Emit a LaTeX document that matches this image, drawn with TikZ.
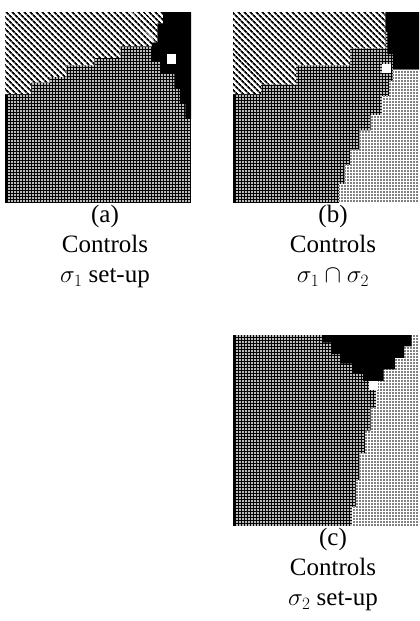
\documentclass[tikz,border=0pt]{standalone}
\usepackage{fontspec}
\setmainfont{Liberation Serif}
\usetikzlibrary{patterns.meta}
\begin{document}
\begin{tikzpicture}[x=1pt,y=-1pt,
  darkfield/.style={fill=black,
    postaction={pattern={Dots[distance=3pt,radius=1.05pt]},pattern color=white}},
  hatchfield/.style={fill=white,
    postaction={pattern={Lines[angle=-45,distance=4pt,line width=1.8pt]},pattern color=black}},
  palefield/.style={fill=white,
    postaction={pattern={Dots[distance=3pt,radius=0.85pt]},pattern color=black}},
  blackfield/.style={fill=black},
  marker/.style={fill=white},
  edgestrip/.style={fill=black},
  streak/.style={draw=white,line width=1.6pt,opacity=0.55},
  caption/.style={anchor=north,align=center,inner sep=0pt,
    font=\fontsize{25}{30}\selectfont}]
\useasboundingbox (0,0) rectangle (420,621);

% ---- panel (a): sigma_1 set-up
\begin{scope}[shift={(5,12)},x=186pt,y=-191pt]
  \fill[darkfield] (0,0) rectangle (1,1);
  \fill[edgestrip] (0,0.43) rectangle (0.016,1);
  \fill[hatchfield] (0,0) -- (0.85,0) -- (0.85,0.06) -- (0.82,0.06) -- (0.82,0.16)
    -- (0.79,0.16) -- (0.79,0.18) -- (0.62,0.18) -- (0.62,0.24) -- (0.48,0.24)
    -- (0.48,0.28) -- (0.33,0.28) -- (0.33,0.34) -- (0.24,0.34) -- (0.24,0.37)
    -- (0.14,0.37) -- (0.14,0.43) -- (0,0.43) -- cycle;
  \draw[streak] (0.68,0) -- (0.80,0.15);
  \fill[blackfield] (0.85,0) -- (1,0) -- (1,0.56) -- (0.97,0.56) -- (0.97,0.48)
    -- (0.94,0.48) -- (0.94,0.40) -- (0.91,0.40) -- (0.91,0.32) -- (0.84,0.32)
    -- (0.84,0.26) -- (0.79,0.26) -- (0.79,0.16) -- (0.82,0.16) -- (0.82,0.06)
    -- (0.85,0.06) -- cycle;
  \fill[marker] (0.87,0.22) rectangle (0.92,0.27);
\end{scope}

% ---- panel (b): sigma_1 cap sigma_2
\begin{scope}[shift={(233,12)},x=186pt,y=-191pt]
  \fill[darkfield] (0,0) rectangle (1,1);
  \fill[edgestrip] (0,0.43) rectangle (0.016,1);
  \fill[hatchfield] (0,0) -- (0.82,0) -- (0.82,0.19) -- (0.63,0.19) -- (0.63,0.28)
    -- (0.34,0.28) -- (0.34,0.38) -- (0.15,0.38) -- (0.15,0.43) -- (0,0.43) -- cycle;
  \fill[palefield] (0.86,0.3) -- (1,0.3) -- (1,1) -- (0.57,1) -- (0.57,0.9)
    -- (0.6,0.9) -- (0.6,0.8) -- (0.63,0.8) -- (0.63,0.72) -- (0.68,0.72)
    -- (0.68,0.62) -- (0.74,0.62) -- (0.74,0.54) -- (0.8,0.54) -- (0.8,0.44)
    -- (0.84,0.44) -- (0.84,0.36) -- (0.86,0.36) -- cycle;
  \fill[blackfield] (0.82,0) -- (1,0) -- (1,0.3) -- (0.86,0.3) -- (0.86,0.22)
    -- (0.83,0.22) -- (0.83,0.1) -- (0.82,0.1) -- cycle;
  \fill[marker] (0.80,0.27) rectangle (0.85,0.32);
\end{scope}

% ---- panel (c): sigma_2 set-up
\begin{scope}[shift={(233,335)},x=186pt,y=-191pt]
  \fill[darkfield] (0,0) rectangle (1,1);
  \fill[edgestrip] (0,0) rectangle (0.016,1);
  \fill[palefield] (0.9,0) -- (1,0) -- (1,1) -- (0.64,1) -- (0.64,0.9) -- (0.66,0.9)
    -- (0.66,0.76) -- (0.68,0.76) -- (0.68,0.62) -- (0.71,0.62) -- (0.71,0.5)
    -- (0.74,0.5) -- (0.74,0.38) -- (0.77,0.38) -- (0.77,0.2) -- cycle;
  \fill[blackfield] (0.48,0) -- (0.96,0) -- (0.96,0.06) -- (0.92,0.06) -- (0.92,0.12)
    -- (0.87,0.12) -- (0.87,0.18) -- (0.81,0.18) -- (0.81,0.24) -- (0.70,0.24)
    -- (0.70,0.2) -- (0.64,0.2) -- (0.64,0.15) -- (0.58,0.15) -- (0.58,0.1)
    -- (0.53,0.1) -- (0.53,0.04) -- (0.48,0.04) -- cycle;
  \fill[marker] (0.73,0.24) rectangle (0.78,0.29);
\end{scope}

% ---- captions
\node[caption] (capa) at (105,205) {(a)\\Controls\\$\sigma_1$ set-up};
\node[caption] (capb) at (333,205) {(b)\\Controls\\$\sigma_1\cap\sigma_2$};
\node[caption] (capc) at (333,528) {(c)\\Controls\\$\sigma_2$ set-up};
\end{tikzpicture}
\end{document}
